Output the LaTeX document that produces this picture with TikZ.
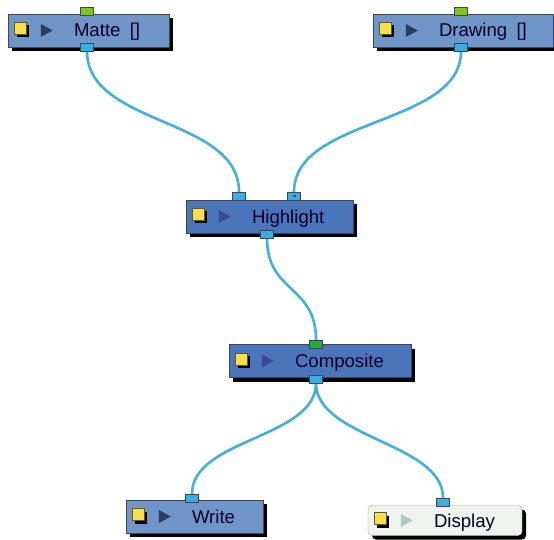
\documentclass[tikz,border=0pt]{standalone}
\usepackage{fontspec}
\setmainfont{Liberation Sans}
\usetikzlibrary{positioning,shadows,backgrounds}

\definecolor{lightBox}{HTML}{7095C8}
\definecolor{darkBox}{HTML}{4A75BB}
\definecolor{dispBox}{HTML}{EEF3EE}
\definecolor{boxLine}{HTML}{3A4660}
\definecolor{cableBlue}{HTML}{40B0E0}
\definecolor{portBlue}{HTML}{3AAEE0}
\definecolor{inGreen}{HTML}{80C41C}
\definecolor{compGreen}{HTML}{1CB32A}
\definecolor{iconYellow}{HTML}{F7E04A}
\definecolor{triDark}{HTML}{2C3C5C}
\definecolor{triBlue}{HTML}{3A4A9A}
\definecolor{triGray}{HTML}{B8C4C4}

\begin{document}
\begin{tikzpicture}[x=1pt, y=-1pt,
    box/.style={rectangle, draw=boxLine, fill=lightBox, minimum width=#1, minimum height=33pt, inner sep=0pt,
        general shadow={fill=black, shadow xshift=4pt, shadow yshift=-4pt}},
    hiBox/.style={box=#1, fill=darkBox},
    dispNode/.style={box=#1, fill=dispBox, draw=black!35, rounded corners=4pt, minimum height=30pt},
    icon/.style={rectangle, draw=black!60!iconYellow, fill=iconYellow, minimum size=12pt, inner sep=0pt,
        general shadow={fill=black, shadow xshift=3pt, shadow yshift=-3pt}},
    label/.style={anchor=base west, inner sep=0pt, font=\fontsize{18.6}{20}\selectfont, text=black!85!blue},
    port/.style={rectangle, draw=boxLine, fill=portBlue, minimum width=13pt, minimum height=8pt, inner sep=0pt},
    inPort/.style={port, fill=inGreen},
    cable/.style={draw=cableBlue, line width=2.6pt}
]
    \useasboundingbox (0,0) rectangle (554,540);

    % boxes
    \node[box=161pt] (M) at (88.5,30.5) {};
    \node[box=180pt] (D) at (463,30.5) {};
    \node[hiBox=167pt] (H) at (269.5,216.5) {};
    \node[hiBox=182pt] (C) at (320,361) {};
    \node[box=137pt] (W) at (194.5,516.5) {};
    \node[dispNode=154pt] (P) at (445,520.5) {};

    % icons and names
    \foreach \b/\t/\c in {M/Matte\enspace[]/triDark, D/Drawing\enspace[]/triDark, H/Highlight/triBlue,
                          C/Composite/triBlue, W/Write/triDark, P/Display/triGray} {
        \node[icon, right=6pt of \b.west, yshift=2pt] (\b-ico) {};
        \fill[\c] ([shift={(33,-6.5)}]\b.west) -- ++(12,6.5) -- ++(-12,6.5) -- cycle;
        \node[label] (\b-txt) at ([xshift=66pt, yshift=-6.5pt]\b.west) {\t};
    }

    % ports
    \node[inPort] (M-in) at (87,11) {};
    \node[port] (M-out) at (87,47) {};
    \node[inPort] (D-in) at (461,11) {};
    \node[port] (D-out) at (461,47) {};
    \node[port] (H-inA) at (239,196) {};
    \node[port] (H-inB) at (294,196) {};
    \node[rectangle, fill=boxLine, minimum width=3pt, minimum height=2pt, inner sep=0pt] (H-dot) at (H-inB) {};
    \node[port] (H-out) at (267,234) {};
    \node[inPort, fill=compGreen] (C-in) at (316,344) {};
    \node[port] (C-out) at (316,379) {};
    \node[port] (W-in) at (192,498) {};
    \node[port] (P-in) at (443,502) {};

    \begin{scope}[on background layer]
    \path[cable] (M-out.south) .. controls +(0,75) and +(0,-75) .. (H-inA.north);
    \path[cable] (D-out.south) .. controls +(0,75) and +(0,-75) .. (H-inB.north);
    \path[cable] (H-out.south) .. controls +(0,55) and +(0,-55) .. (C-in.north);
    \path[cable] (C-out.south) .. controls +(0,55) and +(0,-55) .. (W-in.north);
    \path[cable] (C-out.south) .. controls +(0,55) and +(0,-55) .. (P-in.north);
    \end{scope}
\end{tikzpicture}
\end{document}
